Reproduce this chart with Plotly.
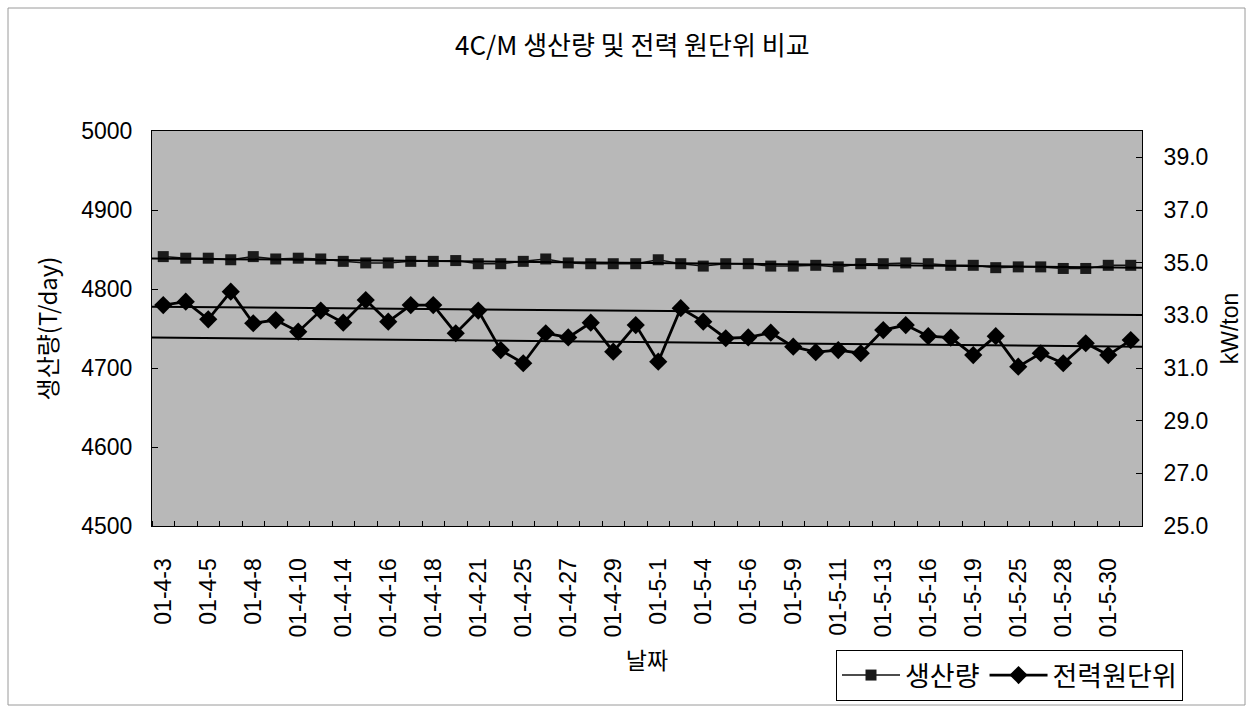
import numpy as np
import plotly.graph_objects as go

# Daily dates (every other one is labelled on the axis)
dates = [
    "01-4-3", "01-4-4", "01-4-5", "01-4-7", "01-4-8", "01-4-9", "01-4-10", "01-4-12",
    "01-4-14", "01-4-15", "01-4-16", "01-4-17", "01-4-18", "01-4-20", "01-4-21", "01-4-23",
    "01-4-25", "01-4-26", "01-4-27", "01-4-28", "01-4-29", "01-4-30", "01-5-1", "01-5-2",
    "01-5-4", "01-5-5", "01-5-6", "01-5-8", "01-5-9", "01-5-10", "01-5-11", "01-5-12",
    "01-5-13", "01-5-15", "01-5-16", "01-5-17", "01-5-19", "01-5-23", "01-5-25", "01-5-26",
    "01-5-28", "01-5-29", "01-5-30", "01-5-31",
]

# Production (T/day), left axis
production = [
    4841, 4839, 4839, 4837, 4841, 4838, 4839, 4838, 4835, 4833, 4833, 4835, 4835, 4836, 4832,
    4832, 4835, 4838, 4833, 4832, 4832, 4832, 4837, 4832, 4829, 4832, 4832, 4829, 4829, 4830,
    4828, 4832, 4832, 4833, 4832, 4830, 4830, 4827, 4828, 4828, 4826, 4826, 4830, 4830,
]

# Power consumption per ton (kW/ton), right axis
power_unit = [
    33.39, 33.52, 32.85, 33.90, 32.70, 32.82, 32.38, 33.18, 32.72, 33.58, 32.76, 33.39,
    33.39, 32.32, 33.18, 31.68, 31.18, 32.32, 32.16, 32.72, 31.62, 32.63, 31.24, 33.27,
    32.76, 32.13, 32.16, 32.34, 31.81, 31.60, 31.68, 31.56, 32.44, 32.63, 32.21, 32.15,
    31.49, 32.21, 31.05, 31.56, 31.18, 31.94, 31.49, 32.06,
]

# Reference lines for power (kW/ton at the start and end of the period)
power_ref_upper = [33.33, 33.01]
power_ref_lower = [32.16, 31.81]

left_ticks = [4500, 4600, 4700, 4800, 4900, 5000]
right_ticks = [25.0, 27.0, 29.0, 31.0, 33.0, 35.0, 37.0, 39.0]

W, H = 1257, 713
M_L, M_R, M_T, M_B = 152, 115, 131, 187

FONT = "Liberation Sans, Arial, Noto Sans CJK KR, sans-serif"
KFONT = "Noto Sans CJK KR, Liberation Sans, sans-serif"

idx = np.arange(len(dates))
span = [-0.5, len(dates) - 0.5]

# linear trend of production across the full plot width
coef = np.polyfit(idx, production, 1)
trend_y = np.polyval(coef, span)

fig = go.Figure()

fig.add_trace(go.Scatter(
    x=idx, y=production, name="생산량", mode="lines+markers",
    line=dict(color="#111111", width=1.5),
    marker=dict(symbol="square", size=11, color="#1a1a1a"),
    yaxis="y",
))
fig.add_trace(go.Scatter(
    x=idx, y=power_unit, name="전력원단위", mode="lines+markers",
    line=dict(color="#000000", width=2.8),
    marker=dict(symbol="diamond", size=14, color="#000000"),
    yaxis="y2",
))
fig.add_trace(go.Scatter(
    x=span, y=trend_y, mode="lines", showlegend=False, hoverinfo="skip",
    line=dict(color="#000000", width=2), yaxis="y",
))
for ref in (power_ref_upper, power_ref_lower):
    fig.add_trace(go.Scatter(
        x=span, y=ref, mode="lines", showlegend=False, hoverinfo="skip",
        line=dict(color="#000000", width=2), yaxis="y2",
    ))

pw = W - M_L - M_R
ph = H - M_T - M_B
# thin frame around the whole chart area
fig.add_shape(
    type="rect", xref="paper", yref="paper",
    x0=(8 - M_L) / pw, x1=(W - 12 - M_L) / pw,
    y0=(H - M_B - (H - 8)) / ph, y1=(H - M_B - 8) / ph,
    line=dict(color="#9a9a9a", width=1), fillcolor="rgba(0,0,0,0)", layer="below",
)

fig.update_layout(
    width=W, height=H,
    margin=dict(l=M_L, r=M_R, t=M_T, b=M_B, autoexpand=False),
    paper_bgcolor="white",
    plot_bgcolor="#b8b8b8",
    title=dict(
        text="4C/M 생산량 및 전력 원단위 비교",
        x=0.503, xanchor="center", y=1 - 46 / H, yanchor="middle",
        font=dict(family=KFONT, size=26, color="#000000"),
    ),
    xaxis=dict(
        type="linear", range=span,
        tickmode="array", tickvals=idx[::2].tolist(), ticktext=dates[::2],
        tickangle=-90, ticks="", ticklabelstandoff=22,
        minor=dict(tickmode="array", tickvals=(np.arange(len(dates) + 1) - 0.5).tolist(),
                   ticks="inside", ticklen=5, tickcolor="#000000"),
        showline=True, linecolor="#000000", linewidth=1, mirror=True,
        showgrid=False, zeroline=False,
        tickfont=dict(family=FONT, size=23, color="#000000"),
        title=dict(text="날짜", font=dict(family=KFONT, size=23, color="#000000"), standoff=16),
    ),
    yaxis=dict(
        range=[4500, 5000], tickvals=left_ticks, ticktext=[str(v) for v in left_ticks],
        ticks="inside", ticklen=6, tickcolor="#000000", ticklabelstandoff=14,
        showline=True, linecolor="#000000", linewidth=1,
        showgrid=False, zeroline=False,
        tickfont=dict(family=FONT, size=23, color="#000000"),
        title=dict(text="생산량(T/day)", font=dict(family=KFONT, size=24, color="#000000"), standoff=16),
    ),
    yaxis2=dict(
        range=[25, 40], overlaying="y", side="right",
        tickvals=right_ticks, ticktext=[f"{v:.1f}" for v in right_ticks],
        ticks="inside", ticklen=6, tickcolor="#000000", ticklabelstandoff=16,
        showline=True, linecolor="#000000", linewidth=1,
        showgrid=False, zeroline=False,
        tickfont=dict(family=FONT, size=23, color="#000000"),
        title=dict(text="kW/ton", font=dict(family=FONT, size=23, color="#000000"), standoff=14),
    ),
    legend=dict(
        orientation="h", x=(836 - M_L) / pw, xanchor="left",
        y=(H - M_B - 650) / ph, yanchor="top",
        bgcolor="white", bordercolor="#000000", borderwidth=1,
        font=dict(family=KFONT, size=27, color="#000000"),
        itemwidth=58,
    ),
    showlegend=True,
)

fig.write_html("out.html")
